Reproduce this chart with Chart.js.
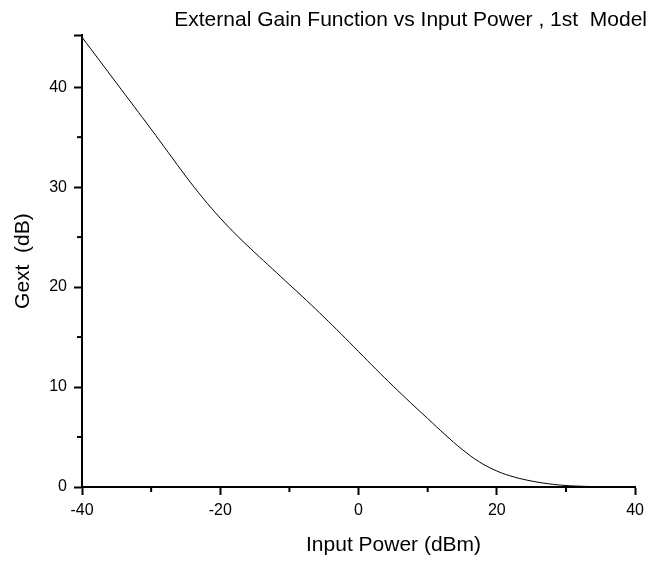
<!DOCTYPE html>
<html>
<head>
<meta charset="utf-8">
<script src="https://cdn.jsdelivr.net/npm/chart.js@4.4.1/dist/chart.umd.min.js"></script>
<style>
  body { margin: 0; background: #fff; }
  canvas { display: block; }
</style>
</head>
<body>
<canvas id="grafico" width="650" height="561"></canvas>
<script>
// Datos: potencia de entrada (dBm) y ganancia externa (dB)
const potenciaEntrada = [-40, -37.5, -35, -32.5, -30, -27.5, -25, -22.5, -20, -17.5, -15, -12.5, -10, -7.5, -5, -2.5,
    0, 2.5, 5, 7.5, 10, 12.5, 15, 17.5, 20, 22.5, 25, 27.5, 30, 32.5, 35, 37.5, 40];
const gananciaExt = [45.0, 42.7, 40.4, 38.1, 35.8, 33.45, 31.1, 28.9, 26.9, 25.1, 23.45, 21.85, 20.25, 18.65, 17.0, 15.3,
    13.55, 11.8, 10.1, 8.45, 6.85, 5.25, 3.75, 2.5, 1.6, 1.0, 0.6, 0.32, 0.15, 0.07, 0.03, 0.01, 0.0];

// Marcas de los ejes
const ticksX = [-40, -20, 0, 20, 40];
const ticksXMenores = [-30, -10, 10, 30];
const ticksY = [0, 10, 20, 30, 40, 45.2];
const etiquetasY = [0, 10, 20, 30, 40];
const ticksYMenores = [5, 15, 25, 35];

const fuente = "'Liberation Sans', Arial, sans-serif";

// Plugin para dibujar las marcas menores (mas cortas)
const marcasMenores = {
    id: 'marcasMenores',
    afterDraw(chart) {
        const ctx = chart.ctx;
        const ejeX = chart.scales.x;
        const ejeY = chart.scales.y;
        ctx.save();
        ctx.strokeStyle = '#000';
        ctx.lineWidth = 2;
        ticksXMenores.forEach(function (v) {
            const px = ejeX.getPixelForValue(v);
            ctx.beginPath();
            ctx.moveTo(px, ejeX.top);
            ctx.lineTo(px, ejeX.top + 5);
            ctx.stroke();
        });
        ticksYMenores.forEach(function (v) {
            const py = ejeY.getPixelForValue(v);
            ctx.beginPath();
            ctx.moveTo(ejeY.right, py);
            ctx.lineTo(ejeY.right - 5, py);
            ctx.stroke();
        });
        ctx.restore();
    }
};

const ctx = document.getElementById('grafico').getContext('2d');
new Chart(ctx, {
    type: 'line',
    data: {
        datasets: [{
            data: potenciaEntrada.map(function (x, i) { return { x: x, y: gananciaExt[i] }; }),
            borderColor: '#000',
            borderWidth: 1,
            pointRadius: 0,
            fill: false,
            tension: 0.4
        }]
    },
    options: {
        responsive: false,
        animation: false,
        layout: { padding: { left: 0, right: 3, top: 0, bottom: 0 } },
        plugins: {
            legend: { display: false },
            tooltip: { enabled: false },
            title: {
                display: true,
                text: 'External Gain Function vs Input Power , 1st  Model',
                align: 'end',
                color: '#000',
                font: { family: fuente, size: 21, weight: 'normal' },
                padding: { top: 8, bottom: 2 }
            }
        },
        scales: {
            x: {
                type: 'linear',
                min: -40,
                max: 40,
                afterBuildTicks: function (eje) {
                    eje.ticks = ticksX.map(function (v) { return { value: v }; });
                },
                afterFit: function (eje) { eje.height = 74; },
                ticks: {
                    color: '#000',
                    font: { family: fuente, size: 16 },
                    padding: 6,
                    maxRotation: 0,
                    callback: function (v) { return String(v); }
                },
                grid: {
                    drawOnChartArea: false,
                    drawTicks: true,
                    tickLength: 8,
                    tickColor: '#000',
                    tickWidth: 2
                },
                border: { display: true, color: '#000', width: 2 },
                title: {
                    display: true,
                    text: '            Input Power (dBm)',
                    color: '#000',
                    font: { family: fuente, size: 21 },
                    padding: { top: 0, bottom: 3 }
                }
            },
            y: {
                type: 'linear',
                min: 0,
                max: 45.2,
                afterBuildTicks: function (eje) {
                    eje.ticks = ticksY.map(function (v) { return { value: v }; });
                },
                afterFit: function (eje) { eje.width = 82; },
                ticks: {
                    color: '#000',
                    font: { family: fuente, size: 16 },
                    padding: 7,
                    callback: function (v) { return etiquetasY.indexOf(v) >= 0 ? String(v) : ''; }
                },
                grid: {
                    drawOnChartArea: false,
                    drawTicks: true,
                    tickLength: 8,
                    tickColor: '#000',
                    tickWidth: 2
                },
                border: { display: true, color: '#000', width: 2 },
                title: {
                    display: true,
                    text: 'Gext  (dB)',
                    color: '#000',
                    font: { family: fuente, size: 21 },
                    padding: { top: 11, bottom: 0 }
                }
            }
        }
    },
    plugins: [marcasMenores]
});
</script>
</body>
</html>
